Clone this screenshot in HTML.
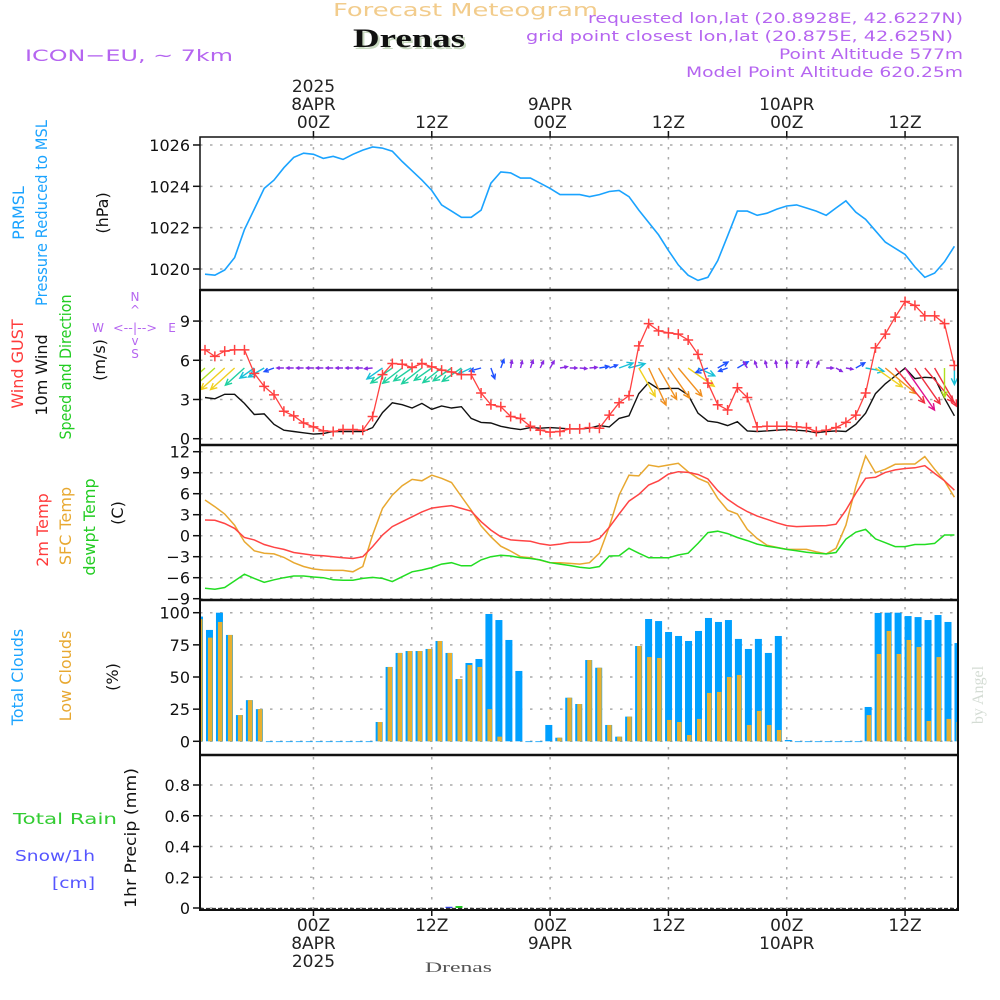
<!DOCTYPE html>
<html><head><meta charset="utf-8"><title>Meteogram Drenas</title>
<style>
html,body{margin:0;padding:0;background:#fff;}
svg{display:block;}
text{font-family:"DejaVu Sans","Liberation Sans",sans-serif;}
</style></head>
<body>
<svg id="chart" xmlns="http://www.w3.org/2000/svg" width="1000" height="1000" viewBox="0 0 1000 1000">
<rect x="0" y="0" width="1000" height="1000" fill="#fff"/>
<text x="333" y="16" textLength="265" lengthAdjust="spacingAndGlyphs" font-size="18" fill="#f2cc8c">Forecast Meteogram</text>
<text x="355" y="49" textLength="112" lengthAdjust="spacingAndGlyphs" font-size="26" font-weight="bold" fill="#c8d8c0" style="font-family:'Liberation Serif',serif">Drenas</text>
<text x="353" y="47" textLength="112" lengthAdjust="spacingAndGlyphs" font-size="26" font-weight="bold" fill="#111" style="font-family:'Liberation Serif',serif">Drenas</text>
<text x="25" y="61" textLength="208" lengthAdjust="spacingAndGlyphs" font-size="16" fill="#b565f0">ICON−EU, ~ 7km</text>
<text x="588" y="23" textLength="375" lengthAdjust="spacingAndGlyphs" font-size="14" fill="#b565f0">requested lon,lat (20.8928E, 42.6227N)</text>
<text x="526" y="41" textLength="427" lengthAdjust="spacingAndGlyphs" font-size="14" fill="#b565f0">grid point closest lon,lat (20.875E, 42.625N)</text>
<text x="779" y="59" textLength="184" lengthAdjust="spacingAndGlyphs" font-size="14" fill="#b565f0">Point Altitude 577m</text>
<text x="686" y="77" textLength="277" lengthAdjust="spacingAndGlyphs" font-size="14" fill="#b565f0">Model Point Altitude 620.25m</text>

<g>
<text transform="translate(24,213) rotate(-90)" text-anchor="middle" font-size="16" fill="#1aa3ff">PRMSL</text>
<text transform="translate(47,213) rotate(-90)" text-anchor="middle" font-size="16" fill="#1aa3ff" textLength="186" lengthAdjust="spacingAndGlyphs">Pressure Reduced to MSL</text>
<text transform="translate(108,213) rotate(-90)" text-anchor="middle" font-size="16" fill="#111">(hPa)</text>
</g>
<g>
<text transform="translate(23,364) rotate(-90)" text-anchor="middle" font-size="16" fill="#ff3b3b">Wind GUST</text>
<text transform="translate(47,375) rotate(-90)" text-anchor="middle" font-size="16" fill="#111">10m Wind</text>
<text transform="translate(71,367) rotate(-90)" text-anchor="middle" font-size="16" fill="#22cc22" textLength="145" lengthAdjust="spacingAndGlyphs">Speed and Direction</text>
<text transform="translate(105,360) rotate(-90)" text-anchor="middle" font-size="16" fill="#111">(m/s)</text>
<g fill="#b565f0" font-size="12">
<text x="135" y="301" text-anchor="middle">N</text>
<text x="135" y="314" text-anchor="middle">^</text>
<text x="98" y="332" text-anchor="middle">W</text>
<text x="135" y="332" text-anchor="middle" textLength="44" lengthAdjust="spacingAndGlyphs">&lt;--|--&gt;</text>
<text x="172" y="332" text-anchor="middle">E</text>
<text x="135" y="345" text-anchor="middle">v</text>
<text x="135" y="358" text-anchor="middle">S</text>
</g>
</g>
<g>
<text transform="translate(48,530) rotate(-90)" text-anchor="middle" font-size="16" fill="#ff3b3b">2m Temp</text>
<text transform="translate(71,526) rotate(-90)" text-anchor="middle" font-size="16" fill="#e8a830">SFC Temp</text>
<text transform="translate(95,527) rotate(-90)" text-anchor="middle" font-size="16" fill="#22cc22">dewpt Temp</text>
<text transform="translate(123,513) rotate(-90)" text-anchor="middle" font-size="16" fill="#111">(C)</text>
</g>
<g>
<text transform="translate(23,677) rotate(-90)" text-anchor="middle" font-size="16" fill="#1aa3ff">Total Clouds</text>
<text transform="translate(71,676) rotate(-90)" text-anchor="middle" font-size="16" fill="#e8a830">Low Clouds</text>
<text transform="translate(118,677) rotate(-90)" text-anchor="middle" font-size="16" fill="#111">(%)</text>
</g>
<g>
<text x="13" y="824" font-size="15" fill="#33cc33" textLength="104" lengthAdjust="spacingAndGlyphs">Total  Rain</text>
<text x="15" y="861" font-size="15" fill="#5555ff" textLength="80" lengthAdjust="spacingAndGlyphs">Snow/1h</text>
<text x="52" y="888" font-size="15" fill="#5555ff" textLength="43" lengthAdjust="spacingAndGlyphs">[cm]</text>
<text transform="translate(136,838) rotate(-90)" text-anchor="middle" font-size="16" fill="#111" textLength="140" lengthAdjust="spacingAndGlyphs">1hr Precip (mm)</text>
</g>
<text transform="translate(983,695) rotate(-90)" text-anchor="middle" font-size="16" fill="#d4dcd4" style="font-family:'Liberation Serif',serif">by Angel</text>
<text x="425" y="972" textLength="67" lengthAdjust="spacingAndGlyphs" font-size="15" fill="#555" style="font-family:'Liberation Serif',serif">Drenas</text>
<g id="plot"></g>
</svg>
<script>
const pressure = [1019.75,1019.7,1019.95,1020.55,1021.9,1022.9,1023.9,1024.3,1024.9,1025.4,1025.6,1025.55,1025.35,1025.45,1025.3,1025.55,1025.75,1025.9,1025.85,1025.7,1025.2,1024.75,1024.3,1023.8,1023.1,1022.8,1022.5,1022.5,1022.85,1024.15,1024.7,1024.65,1024.4,1024.4,1024.15,1023.9,1023.6,1023.6,1023.6,1023.5,1023.6,1023.75,1023.8,1023.5,1022.85,1022.25,1021.65,1020.9,1020.2,1019.7,1019.45,1019.6,1020.4,1021.6,1022.8,1022.8,1022.6,1022.7,1022.9,1023.05,1023.1,1022.95,1022.8,1022.6,1022.95,1023.3,1022.75,1022.4,1021.85,1021.3,1021.0,1020.7,1020.1,1019.6,1019.8,1020.35,1021.1];
const gust = [6.8,6.3,6.7,6.8,6.8,5.0,4.0,3.35,2.1,1.75,1.2,0.9,0.6,0.55,0.7,0.7,0.65,1.7,4.9,5.75,5.7,5.45,5.75,5.5,5.25,5.1,4.9,4.9,3.5,2.6,2.45,1.7,1.55,0.95,0.65,0.5,0.55,0.75,0.75,0.85,0.8,1.8,2.75,3.3,7.1,8.8,8.25,8.1,8.0,7.55,6.45,4.25,2.6,2.2,3.9,3.15,0.9,0.95,0.95,0.95,0.9,0.85,0.55,0.65,0.85,1.25,1.8,3.5,6.95,8.0,9.3,10.5,10.2,9.4,9.4,8.8,5.6];
const windSpeed = [3.15,3.05,3.4,3.4,2.7,1.85,1.9,1.1,0.65,0.55,0.45,0.35,0.4,0.55,0.55,0.55,0.55,0.85,2.0,2.75,2.6,2.35,2.7,2.25,2.5,2.35,2.45,1.55,1.25,1.2,0.95,0.8,0.7,0.85,0.8,0.85,0.8,0.75,0.75,0.8,1.0,0.9,1.55,1.75,3.45,4.3,3.8,3.85,3.85,3.35,1.95,1.35,1.25,1.0,1.3,0.6,0.55,0.6,0.65,0.7,0.65,0.6,0.45,0.55,0.6,0.55,1.1,1.95,3.45,4.2,4.8,5.4,4.6,4.7,4.65,3.1,1.75];
const windDir = [228,228,228,228,228,235,240,250,270,270,270,270,270,270,270,270,270,265,235,235,232,235,232,235,232,235,235,245,255,160,20,10,15,20,25,30,80,90,95,85,80,70,70,75,150,155,150,145,140,125,115,250,60,250,60,330,340,345,350,0,10,15,20,90,120,100,60,100,125,130,140,145,145,140,150,180,180];
const temp2m = [2.25,2.2,1.75,1.05,-0.25,-0.6,-1.25,-1.65,-1.95,-2.4,-2.6,-2.8,-2.85,-3.0,-3.15,-3.25,-3.0,-1.55,0.1,1.3,2.0,2.7,3.4,3.95,4.15,4.3,3.9,3.5,2.0,0.8,-0.15,-0.6,-0.7,-0.8,-1.15,-1.35,-1.2,-0.95,-0.95,-0.9,-0.4,1.2,3.1,4.95,5.9,7.25,7.85,8.8,9.15,9.05,8.75,8.1,6.45,5.2,4.25,3.45,2.8,2.35,1.85,1.45,1.3,1.35,1.4,1.45,1.65,3.65,6.05,8.2,8.35,9.05,9.4,9.6,9.7,10.0,8.9,7.85,6.5];
const sfcTemp = [5.1,4.15,3.1,1.5,-0.85,-2.15,-2.5,-2.6,-3.1,-3.85,-4.4,-4.75,-4.9,-4.95,-4.95,-5.15,-4.4,0.1,3.9,5.8,7.15,8.05,7.85,8.65,8.2,7.6,5.6,3.65,1.4,-0.15,-1.5,-2.2,-3.0,-3.15,-3.5,-3.85,-3.85,-3.95,-4.05,-3.85,-2.5,1.3,5.8,8.65,8.55,10.1,9.85,10.1,10.35,9.15,8.2,7.6,5.35,3.65,3.1,0.9,-0.4,-1.35,-1.65,-1.95,-1.95,-1.95,-2.3,-2.6,-1.8,1.5,7.0,11.4,9.0,9.5,10.2,10.25,10.25,11.3,9.5,7.85,5.5];
const dewpt = [-7.5,-7.65,-7.4,-6.45,-5.5,-6.1,-6.65,-6.3,-6.0,-5.75,-5.75,-5.9,-6.0,-6.3,-6.35,-6.35,-6.1,-5.95,-6.1,-6.55,-5.85,-5.15,-4.9,-4.55,-4.05,-3.85,-4.3,-4.3,-3.45,-3.0,-2.8,-2.9,-3.15,-3.25,-3.45,-3.85,-4.05,-4.25,-4.5,-4.65,-4.4,-2.9,-2.85,-1.8,-2.5,-3.15,-3.15,-3.15,-2.75,-2.5,-1.1,0.45,0.65,0.3,-0.25,-0.7,-1.2,-1.5,-1.7,-1.95,-2.15,-2.35,-2.5,-2.6,-2.4,-0.5,0.5,0.9,-0.45,-1.0,-1.55,-1.55,-1.25,-1.25,-1.1,0.1,0.1];
const totalClouds = [97,86.6,100,82.7,20.4,32,25,0,0,0,0,0,0,0,0,0,0,0,15,57.8,68.7,70.2,70.2,71.8,78,68.7,48.4,60.9,64,99,94.3,78.8,54.7,0,0,12.7,2.8,33.9,29,63.2,57.2,12.7,3.6,19.2,74.1,95.1,93.5,85,81.9,78,85.8,95.9,92.8,94.3,79.6,71.8,79.6,68.7,81.9,1,0,0,0,0,0,0,0,26.7,99.8,100,100,97.4,96.6,94.3,98.2,92.8,76.4];
const lowClouds = [95,80.6,92.8,82.7,20.4,32,25,0,0,0,0,0,0,0,0,0,0,0,15,57.8,68.7,70.2,70.2,71.8,78,68.7,48.4,59.3,57.8,25,3.6,0,0,0,0,0,2.8,33.9,29,63.2,57.2,12.7,3.6,19.2,74.1,65.5,64.8,16.6,15,4.9,17.4,37.6,38.4,50,51.6,12.7,23.6,12.7,8.8,0,0,0,0,0,0,0,0,20.4,67.9,85.8,67.9,78.8,73.3,15.8,65.5,17.4,15];
const rainAmt = [0,0,0,0,0,0,0,0,0,0,0,0,0,0,0,0,0,0,0,0,0,0,0,0,0,0,0.013,0,0,0,0,0,0,0,0,0,0,0,0,0,0,0,0,0,0,0,0,0,0,0,0,0,0,0,0,0,0,0,0,0,0,0,0,0,0,0,0,0,0,0,0,0,0,0,0,0,0];
const snowAmt = [0,0,0,0,0,0,0,0,0,0,0,0,0,0,0,0,0,0,0,0,0,0,0,0,0,0.008,0,0,0,0,0,0,0,0,0,0,0,0,0,0,0,0,0,0,0,0,0,0,0,0,0,0,0,0,0,0,0,0,0,0,0,0,0,0,0,0,0,0,0,0,0,0,0,0,0,0,0];
const pressureTicks = [1020,1022,1024,1026];
const windTicks = [0,3,6,9];
const tempTicks = [-9,-6,-3,0,3,6,9,12];
const cloudTicks = [0,25,50,75,100];
const precipTicks = [0,0.2,0.4,0.6,0.8];
const timeTickHours = [11,23,35,47,59,71];
const timeTopLabels = [["2025","8APR","00Z"],["","","12Z"],["","9APR","00Z"],["","","12Z"],["","10APR","00Z"],["","","12Z"]];
const timeBottomLabels = [["00Z","8APR","2025"],["12Z","",""],["00Z","9APR",""],["12Z","",""],["00Z","10APR",""],["12Z","",""]];

const X0=200, X1=958;
const xh = h => 205 + h*9.86;
const xb = i => 199.5 + i*9.98;
const yP = p => 269 - (p-1020)*20.67;
const yW = v => 438.7 - v*13.07;
const yT = t => 535.7 - t*7;
const yC = c => 741.3 - c*1.286;
const yR = r => 908 - r*153.75;
const panels = [[137,290],[290,445],[445,600],[600,755],[755,910]];

const NS="http://www.w3.org/2000/svg";
const plot=document.getElementById('plot');
function mk(tag, attrs, parent){const e=document.createElementNS(NS,tag);for(const k in attrs)e.setAttribute(k,attrs[k]);(parent||plot).appendChild(e);return e;}

const defs=mk('defs',{});
panels.forEach((p,k)=>{const c=mk('clipPath',{id:'clip'+k},defs);mk('rect',{x:X0,y:p[0],width:X1-X0,height:p[1]-p[0]},c);});

function hgrid(vals, yf, k){
  vals.forEach(v=>{const y=yf(v); if(y<=panels[k][0]+1||y>=panels[k][1]-1) return;
    const g=mk('line',{x1:X0,x2:X1,y1:y,y2:y,stroke:'#aaa','stroke-width':1.5,'stroke-dasharray':'2.5,7.5'});
    
    });
}
hgrid(pressureTicks,yP,0);hgrid(windTicks,yW,1);hgrid(tempTicks,yT,2);hgrid(cloudTicks,yC,3);hgrid(precipTicks,yR,4);
timeTickHours.forEach(h=>{
  const g=mk('line',{x1:xh(h),x2:xh(h),y1:137,y2:910,stroke:'#aaa','stroke-width':1.5,'stroke-dasharray':'2.5,7.5'});
  
  
});

function yticks(vals, yf, fmt, name){
  vals.forEach(v=>{const y=yf(v);
    const t=mk('line',{x1:193,x2:200,y1:y,y2:y,stroke:'#111','stroke-width':1.5});
    
    
    const l=mk('text',{x:190,y:y+6,'text-anchor':'end','font-size':16,fill:'#111'});
    l.textContent=fmt(v);
    
    });
}
yticks(pressureTicks,yP,v=>String(v),'pressure');
yticks(windTicks,yW,v=>String(v),'wind');
yticks(tempTicks,yT,v=>(v<0?'−'+(-v):String(v)),'temp');
yticks(cloudTicks,yC,v=>String(v),'cloud');
yticks(precipTicks,yR,v=>(v===0?'0':v.toFixed(1)),'precip');

timeTickHours.forEach((h,k)=>{
  const x=xh(h);
  const t1=mk('line',{x1:x,x2:x,y1:131,y2:137,stroke:'#111','stroke-width':1.5});
  
  
  const t2=mk('line',{x1:x,x2:x,y1:910,y2:916,stroke:'#111','stroke-width':1.5});
  
  
  [92,110,128].forEach((yy,j)=>{const s=timeTopLabels[k][j]; if(!s) return;
    const l=mk('text',{x:x,y:yy,'text-anchor':'middle','font-size':17,fill:'#222'});
    l.textContent=s;
    
    });
  [931,949,967].forEach((yy,j)=>{const s=timeBottomLabels[k][j]; if(!s) return;
    const l=mk('text',{x:x,y:yy,'text-anchor':'middle','font-size':17,fill:'#222'});
    l.textContent=s;
    
    });
});

function linePath(arr, yf){return arr.map((v,i)=>(i?'L':'M')+xh(i).toFixed(1)+','+yf(v).toFixed(1)).join('');}

const pl=mk('path',{d:linePath(pressure,yP),fill:'none',stroke:'#1aa3ff','stroke-width':1.6,'clip-path':'url(#clip0)'});



const wl=mk('path',{d:linePath(windSpeed,yW),fill:'none',stroke:'#111','stroke-width':1.4,'clip-path':'url(#clip1)'});



function windColor(s){if(s<0.9)return '#8a2be2';if(s<1.5)return '#1e50ff';if(s<2.2)return '#18c0d8';if(s<2.9)return '#20d0a0';if(s<3.3)return '#b0e020';if(s<3.7)return '#f0d020';if(s<4.4)return '#f09020';if(s<5)return '#f03040';return '#e0108f';}
const ag=mk('g',{'clip-path':'url(#clip1)'});


windDir.forEach((d,i)=>{
  const s=windSpeed[i], len=Math.max(7,s*9.5), a=d*Math.PI/180;
  const dx=Math.sin(a)*len, dy=-Math.cos(a)*len;
  const x0=xh(i), y0=368, x1=x0+dx, y1=y0+dy;
  const hl=Math.min(7,len*0.45), ang=Math.atan2(dy,dx);
  const p1=[x1-hl*Math.cos(ang-0.45),y1-hl*Math.sin(ang-0.45)], p2=[x1-hl*Math.cos(ang+0.45),y1-hl*Math.sin(ang+0.45)];
  const c=windColor(s);
  const ar=mk('path',{d:`M${x0.toFixed(1)},${y0}L${x1.toFixed(1)},${y1.toFixed(1)}M${p1[0].toFixed(1)},${p1[1].toFixed(1)}L${x1.toFixed(1)},${y1.toFixed(1)}L${p2[0].toFixed(1)},${p2[1].toFixed(1)}`,fill:'none',stroke:c,'stroke-width':1.4},ag);
  
  
});

const gl=mk('path',{d:linePath(gust,yW),fill:'none',stroke:'#ff4040','stroke-width':1.3,'clip-path':'url(#clip1)'});


gust.forEach((v,i)=>{const x=xh(i),y=yW(v);
  const m=mk('path',{d:`M${x-5},${y}H${x+5}M${x},${y-5}V${y+5}`,stroke:'#ff4040','stroke-width':1.5,'clip-path':'url(#clip1)'});
  
  });

[[sfcTemp,'#e8a830','sfc-temp-line'],[temp2m,'#ff4444','temp-2m-line'],[dewpt,'#22dd22','dewpoint-line']].forEach(([arr,c,n])=>{
  const t=mk('path',{d:linePath(arr,yT),fill:'none',stroke:c,'stroke-width':1.5,'clip-path':'url(#clip2)'});
  
  
});

totalClouds.forEach((v,i)=>{const x=xb(i),y=yC(v);
  const b=mk('rect',{x:x-3.5,y:y,width:7,height:Math.max(0.8,741.3-y),fill:'#00a0ff','clip-path':'url(#clip3)'});
  
  
  const lv=lowClouds[i]; if(lv>0){const y2=yC(lv);
  const o=mk('rect',{x:x-1.5,y:y2,width:4.5,height:741.3-y2,fill:'#e8b030','clip-path':'url(#clip3)'});
  
  }
});

rainAmt.forEach((v,i)=>{ if(v<=0) return; const y=yR(v);
  const b=mk('rect',{x:xb(i)-3.5,y:y,width:7,height:908-y,fill:'#22cc22'});
  
  });
snowAmt.forEach((v,i)=>{ if(v<=0) return; const y=yR(v);
  const b=mk('rect',{x:xb(i)-3.5,y:y,width:7,height:908-y,fill:'#3344ee'});
  
  });
const zl=mk('line',{x1:X0,x2:X1,y1:908.5,y2:908.5,stroke:'#333','stroke-width':1.2,'stroke-dasharray':'4,2'});



panels.forEach((p,k)=>{
  const f=mk('rect',{x:X0,y:p[0],width:X1-X0,height:p[1]-p[0],fill:'none',stroke:'#111','stroke-width':k===0?1.5:2});
  
  
});
[290,445,600,755].forEach(y=>{const s=mk('line',{x1:X0,x2:X1,y1:y,y2:y,stroke:'#111','stroke-width':2.5});
  
  });
</script>
</body></html>
